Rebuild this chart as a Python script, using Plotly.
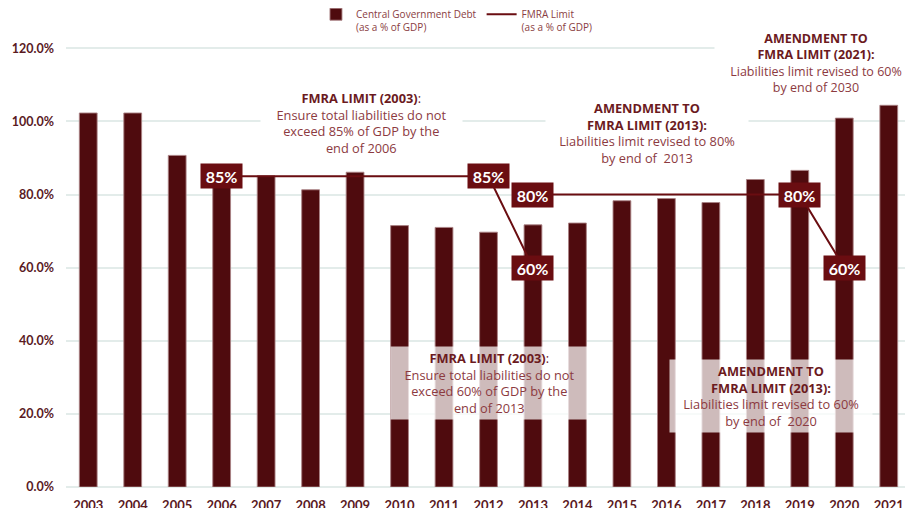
import plotly.graph_objects as go

# ---------------- data ----------------
years = [str(y) for y in range(2003, 2022)]
debt_pct = [102.3, 102.3, 90.7, 87.9, 85.1, 81.3, 86.1, 71.5, 71.0, 69.7,
            71.7, 72.2, 78.3, 78.9, 77.8, 84.1, 86.6, 100.9, 104.4]

limit2003_years = ["2006", "2007", "2008", "2009", "2010", "2011", "2012", "2013"]
limit2003_vals = [85, 85, 85, 85, 85, 85, 85, 60]
limit2013_years = ["2013", "2014", "2015", "2016", "2017", "2018", "2019", "2020"]
limit2013_vals = [80, 80, 80, 80, 80, 80, 80, 60]

y_ticks = [0, 20, 40, 60, 80, 100, 120]

# ---------------- styles ----------------
BAR = "#4f0b0e"
LIM = "#6a0d11"
TICK = "#5a1a1f"
TITLE = "#6b1a1e"
BODY = "#8c3a3f"
LEG = "#8a3d42"
GRID = "#e3ecea"
FONT = "Lato"
NOTE_FONT = "Open Sans"

fig = go.Figure()
fig.add_trace(go.Bar(
    x=years, y=debt_pct,
    name="Central Government Debt<br>(as a % of GDP)",
    marker=dict(color=BAR, line=dict(color="rgba(170,130,132,0.9)", width=1)),
))

for i, (xs, vs) in enumerate([(limit2003_years, limit2003_vals),
                              (limit2013_years, limit2013_vals)]):
    fig.add_trace(go.Scatter(
        x=xs, y=vs, mode="lines",
        name="FMRA Limit<br>(as a % of GDP)", legendgroup="fmra",
        showlegend=(i == 0),
        line=dict(color=LIM, width=2),
    ))

annotations = []
# value badges on the limit line: first, penultimate and last point of each segment
for xs, vs in [(limit2003_years, limit2003_vals), (limit2013_years, limit2013_vals)]:
    for i in (0, len(xs) - 2, len(xs) - 1):
        annotations.append(dict(
            x=years.index(xs[i]), y=vs[i], xref="x", yref="y", text=f"<b>{vs[i]}%</b>",
            xanchor="center", yanchor="middle",
            showarrow=False, bgcolor=LIM, borderpad=2, width=37, height=20,
            font=dict(family=FONT, size=16, color="white"),
        ))


def note(x, y, title, body, bg, w, h, size=12.8):
    txt = title + "<br>" + "<br>".join(f'<span style="color:{BODY}">{b}</span>' for b in body)
    return dict(x=x, y=y, xref="paper", yref="paper", text=txt, showarrow=False,
                xanchor="center", yanchor="middle",
                align="center", bgcolor=bg, width=w, height=h, borderpad=0,
                font=dict(family=NOTE_FONT, size=size, color=TITLE))


annotations += [
    note(0.3497, 0.7965, "<b>FMRA LIMIT (2003)</b>:",
         ["Ensure total liabilities do not", "exceed 85% of GDP by the", "end of 2006"],
         "white", 201, 72),
    note(0.6876, 0.7746, "<b>AMENDMENT TO</b><br><b>FMRA LIMIT (2013):</b>",
         ["Liabilities limit revised to 80%", "by end of  2013"], "white", 202, 72),
    note(0.888, 0.9278, "<b>AMENDMENT TO</b><br><b>FMRA LIMIT (2021):</b>",
         ["Liabilities limit revised to 60%", "by end of 2030"], "white", 202, 72, 12.5),
    note(0.5012, 0.2276, "<b>FMRA LIMIT (2003)</b>:",
         ["Ensure total liabilities do not", "exceed 60% of GDP by the", "end of 2013"],
         "rgba(255,255,255,0.72)", 197, 72),
    note(0.8343, 0.1991, "<b>AMENDMENT TO</b><br><b>FMRA LIMIT (2013):</b>",
         ["Liabilities limit revised to 60%", "by end of  2020"],
         "rgba(255,255,255,0.72)", 202, 72),
]

fig.update_layout(
    width=905, height=500,
    margin=dict(l=58, r=2, t=22, b=21, autoexpand=False),
    paper_bgcolor="white", plot_bgcolor="white",
    bargap=0.6,
    font=dict(family=FONT, color=TICK),
    showlegend=True,
    legend=dict(orientation="h", xref="container", yref="paper",
                x=0.3403, y=1.063, xanchor="left", yanchor="top",
                valign="top", itemwidth=30,
                font=dict(family=NOTE_FONT, size=10, color=LEG),
                bgcolor="rgba(0,0,0,0)"),
    annotations=annotations,
)
fig.update_xaxes(type="category", categoryorder="array", categoryarray=years,
                 range=[-0.5, len(years) - 0.5],
                 showgrid=False, showline=False, ticks="", ticklabelstandoff=9,
                 tickfont=dict(family=FONT, size=13, color=TICK, weight="bold"))
fig.update_yaxes(range=[0, 125], tickvals=y_ticks,
                 ticktext=[f"{v:.1f}%" for v in y_ticks],
                 showgrid=True, gridcolor=GRID, gridwidth=1.5,
                 zeroline=True, zerolinecolor=GRID, zerolinewidth=1.5,
                 showline=False, ticks="", ticklabelstandoff=11,
                 tickfont=dict(family=FONT, size=12.5, color=TICK, weight="bold"))

fig.write_html("out.html")
